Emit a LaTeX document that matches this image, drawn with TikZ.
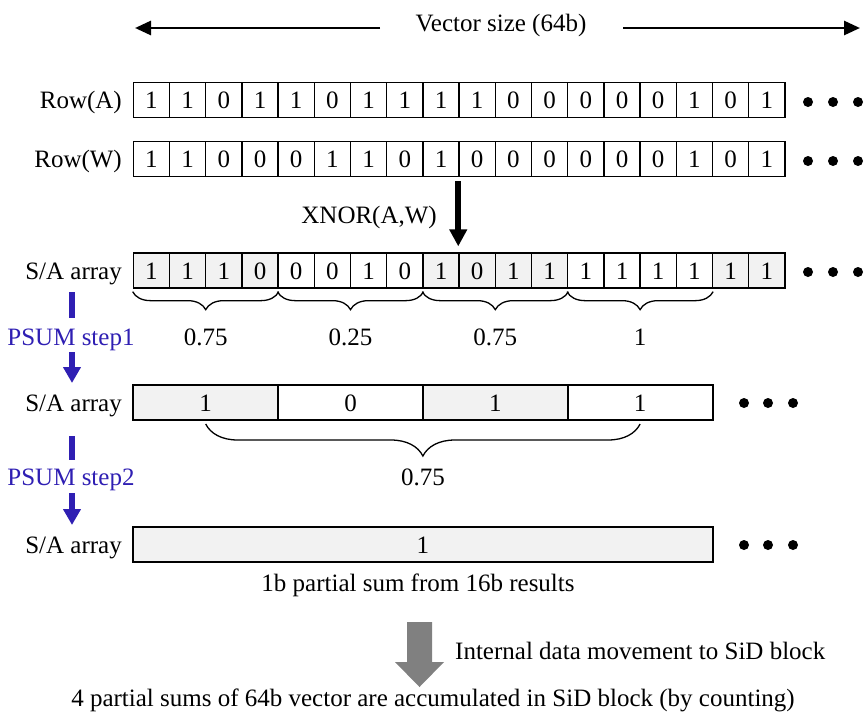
\documentclass[tikz,border=0pt]{standalone}
\usepackage{fontspec}
\setmainfont{Liberation Serif}
\usetikzlibrary{arrows.meta,decorations.pathreplacing,calc}
\definecolor{cellgray}{HTML}{F2F2F2}
\definecolor{psumblue}{HTML}{2F1FB3}
\definecolor{movegray}{HTML}{808080}

\tikzset{
  txt/.style={font=\fontsize{25}{30}\selectfont, inner sep=0pt, text height=17pt, text depth=0pt},
  bit/.style={txt, draw, line width=1.3pt, minimum width=36.2pt, minimum height=35pt},
  psumbox/.style={txt, draw, line width=2pt, minimum width=144.8pt, minimum height=35pt},
  sumbox/.style={txt, draw, line width=2pt, fill=cellgray, minimum width=579.2pt, minimum height=35pt},
  dot/.style={circle, fill=black, inner sep=0pt, minimum size=10pt},
  rowlabel/.style={txt, anchor=east},
  bluelabel/.style={txt, text=psumblue},
  blueline/.style={draw=psumblue, line width=6pt},
  bracebelow/.style={decorate, decoration={brace, mirror, amplitude=#1}, line width=1.3pt},
  sizearrow/.style={line width=2.8pt, -{Triangle[length=16pt,width=14pt]}},
}

\begin{document}
\begin{tikzpicture}[x=1pt,y=-1pt]
\useasboundingbox (0,0) rectangle (867,718);

% vector size header
\node[txt] (vsize) at (501,22.5) {Vector size (64b)};
\coordinate (vsl0) at (380,28);
\coordinate (vsl1) at (135,28);
\coordinate (vsr0) at (623,28);
\coordinate (vsr1) at (860,28);
\draw[sizearrow] (vsl0) -- (vsl1);
\draw[sizearrow] (vsr0) -- (vsr1);

% input rows
\node[rowlabel] (labA) at (122,100) {Row(A)};
\foreach \v [count=\i] in {1,1,0,1,1,0,1,1,1,1,0,0,0,0,0,1,0,1}
  \node[bit] (a\i) at ({133.3+36.2*(\i-0.5)},100) {\v};
\node[rowlabel] (labW) at (122,159) {Row(W)};
\foreach \v [count=\i] in {1,1,0,0,0,1,1,0,1,0,0,0,0,0,0,1,0,1}
  \node[bit] (w\i) at ({133.3+36.2*(\i-0.5)},159) {\v};

% XNOR result row
\node[rowlabel] (labS1) at (122,270.5) {S/A array};
\foreach \v/\f [count=\i] in {1/cellgray,1/cellgray,1/cellgray,0/cellgray,
    0/white,0/white,1/white,0/white,1/cellgray,0/cellgray,1/cellgray,1/cellgray,
    1/white,1/white,1/white,1/white,1/cellgray,1/cellgray}
  \node[bit, fill=\f] (s\i) at ({133.3+36.2*(\i-0.5)},270.5) {\v};

\foreach \r/\y in {a/102,w/161,s/272}{
  \node[dot] (\r dot1) at (808,\y) {};
  \node[dot] (\r dot2) at (833,\y) {};
  \node[dot] (\r dot3) at (858,\y) {};
}

% XNOR arrow (canvas offsets: negative y is downwards)
\coordinate (xtop) at ($(w9.south east)+(-1.5pt,-4pt)$);
\coordinate (xbot) at ($(s9.north east)+(-1.5pt,6pt)$);
\draw[line width=6pt, -{Triangle[length=17pt,width=17pt]}] (xtop) -- (xbot);
\node[txt, anchor=east] (xnor) at (437,215) {XNOR(A,W)};

% step 1 braces and partial sums
\foreach \k [evaluate=\k as \st using int(4*\k-3), evaluate=\k as \en using int(4*\k)] in {1,2,3,4}
  \draw[bracebelow=18pt] ($(s\st.south west)+(0,-3pt)$) -- ($(s\en.south east)+(0,-3pt)$);
\node[txt] (p1) at (205.7,337) {0.75};
\node[txt] (p2) at (350.5,337) {0.25};
\node[txt] (p3) at (495.3,337) {0.75};
\node[txt] (p4) at (640.1,337) {1};

% PSUM step 1 marker
\coordinate (b1a) at (72,292);
\coordinate (b1b) at (72,318);
\draw[blueline] (b1a) -- (b1b);
\node[bluelabel] (ps1) at (71,337) {PSUM step1};
\coordinate (b1c) at (72,352);
\coordinate (b1d) at (72,383);
\draw[blueline, -{Triangle[length=16pt,width=17pt]}] (b1c) -- (b1d);

% step 1 result row
\node[rowlabel] (labS2) at (122,402.5) {S/A array};
\foreach \v/\f [count=\i] in {1/cellgray,0/white,1/cellgray,1/white}
  \node[psumbox, fill=\f] (q\i) at ({133.3+144.8*(\i-0.5)},402.5) {\v};
\node[dot] (qdot1) at (744,403) {};
\node[dot] (qdot2) at (768,403) {};
\node[dot] (qdot3) at (793,403) {};

\draw[bracebelow=32pt] ($(q1.south)+(0,-3pt)$) -- ($(q4.south)+(0,-3pt)$);
\node[txt] (p5) at (423,477) {0.75};

% PSUM step 2 marker
\coordinate (b2a) at (72,436);
\coordinate (b2b) at (72,460);
\draw[blueline] (b2a) -- (b2b);
\node[bluelabel] (ps2) at (71,477) {PSUM step2};
\coordinate (b2c) at (72,493);
\coordinate (b2d) at (72,525);
\draw[blueline, -{Triangle[length=16pt,width=17pt]}] (b2c) -- (b2d);

% step 2 result row
\node[rowlabel] (labS3) at (122,544.5) {S/A array};
\node[sumbox] (r1) at (422.9,544.5) {1};
\node[dot] (rdot1) at (744,545) {};
\node[dot] (rdot2) at (768,545) {};
\node[dot] (rdot3) at (793,545) {};
\node[txt] (cap1) at (418,583) {1b partial sum from 16b results};

% movement to SiD block
\fill[movegray] (407,622) -- (432,622) -- (432,662) -- (444,662) -- (419.5,687)
  -- (395,662) -- (407,662) -- cycle;
\node[txt, anchor=west] (move) at (455,651) {Internal data movement to SiD block};
\node[txt] (cap2) at (433,698) {4 partial sums of 64b vector are accumulated in SiD block (by counting)};
\end{tikzpicture}
\end{document}
